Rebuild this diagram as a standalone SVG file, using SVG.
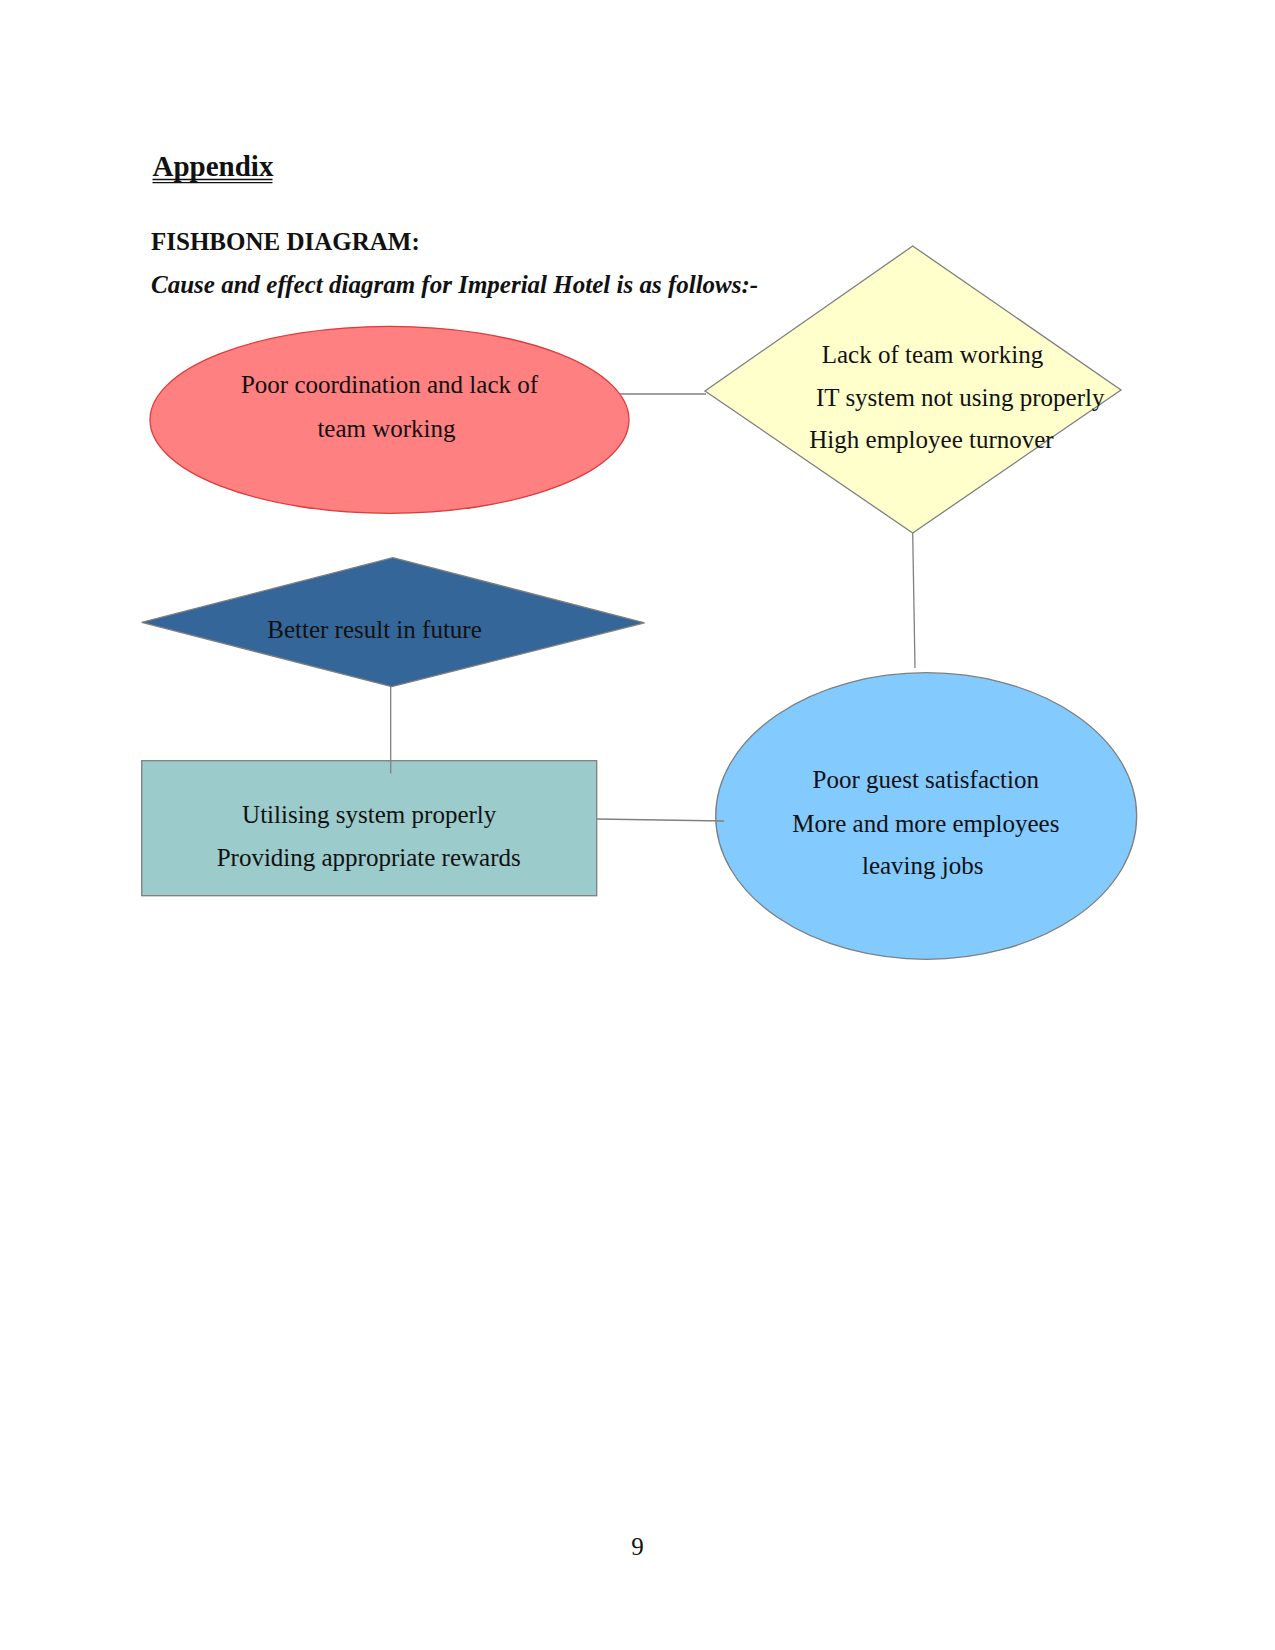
<svg xmlns="http://www.w3.org/2000/svg" width="1275" height="1650" viewBox="0 0 1275 1650">
<style>
  text { font-family: "Liberation Serif", "Times New Roman", serif; fill: #111; }
  .t { font-size: 25px; text-anchor: middle; }
  .shape { stroke: #7f7f7f; stroke-width: 1.3; }
  .conn { stroke: #808080; stroke-width: 1.3; fill: none; }
</style>
<rect x="0" y="0" width="1275" height="1650" fill="#ffffff"/>

<g id="header">
  <text x="152.5" y="176" font-size="29" font-weight="bold">Appendix</text>
  <line x1="152.5" y1="179.5" x2="272.5" y2="179.5" stroke="#111" stroke-width="1.3"/>
  <line x1="152.5" y1="182.7" x2="272.5" y2="182.7" stroke="#111" stroke-width="1.3"/>
  <text x="151" y="250" font-size="25" font-weight="bold">FISHBONE DIAGRAM:</text>
  <text x="151" y="292.5" font-size="25" font-weight="bold" font-style="italic">Cause and effect diagram for Imperial Hotel is as follows:-</text>
</g>

<g id="node-poor-coordination">
  <ellipse cx="389.5" cy="419.8" rx="239.5" ry="93.5" fill="#FF8080" stroke="#E03A3A" stroke-width="1.3"/>
  <text class="t" x="389.5" y="392.7">Poor coordination and lack of</text>
  <text class="t" x="386.5" y="436.7">team working</text>
</g>

<g id="node-causes">
  <polygon class="shape" points="912.7,246 1121,390 912.7,533 705,391" fill="#FFFFCC"/>
  <text x="821.7" y="362.7" font-size="25">Lack of team working</text>
  <text x="816" y="405.7" font-size="25">IT system not using properly</text>
  <text x="809.3" y="448.3" font-size="25">High employee turnover</text>
</g>

<g id="node-better-result">
  <polygon class="shape" points="392.8,557.7 644.5,622.8 391.7,686.7 141.7,622.3" fill="#346699"/>
  <text class="t" x="374.5" y="637.7">Better result in future</text>
</g>

<g id="node-solutions">
  <rect class="shape" x="141.7" y="760.7" width="455" height="135" fill="#9BCBCB" stroke-width="1.6"/>
  <text class="t" x="369.2" y="822.7">Utilising system properly</text>
  <text class="t" x="368.7" y="865.7">Providing appropriate rewards</text>
</g>

<g id="node-effect">
  <ellipse class="shape" cx="926.2" cy="816" rx="210.5" ry="143.3" fill="#83CAFF"/>
  <text class="t" x="925.8" y="787.7">Poor guest satisfaction</text>
  <text class="t" x="925.8" y="831.7">More and more employees</text>
  <text class="t" x="922.7" y="874">leaving jobs</text>
</g>

<g id="connectors">
  <line class="conn" x1="620" y1="394" x2="706" y2="394"/>
  <line class="conn" x1="912.7" y1="533" x2="915" y2="668"/>
  <line class="conn" x1="390.7" y1="686.7" x2="390.7" y2="773.5"/>
  <line class="conn" x1="597" y1="819" x2="724" y2="821"/>
</g>

<g id="page-number">
  <text class="t" x="637.5" y="1554.5">9</text>
</g>
</svg>
